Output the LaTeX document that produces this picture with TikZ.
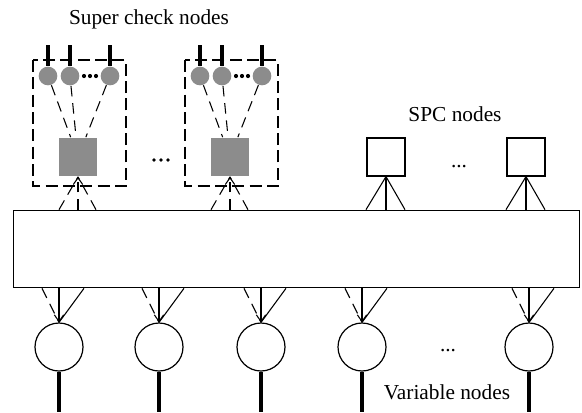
\documentclass[tikz,border=0pt]{standalone}
\usepackage{fontspec}
\setmainfont{Liberation Serif}
\usetikzlibrary{arrows.meta,calc}
\tikzset{
  varnode/.style={draw,circle,line width=0.9pt,minimum size=36pt,inner sep=0pt},
  spcnode/.style={draw,line width=0.9pt,minimum size=28.5pt,inner sep=0pt},
  supnode/.style={fill=black!45,minimum size=29pt,inner sep=0pt},
  subnode/.style={fill=black!45,circle,minimum size=14pt,inner sep=0pt},
  groupbox/.style={draw,line width=1pt,dash pattern=on 9pt off 4pt},
  dashline/.style={line width=0.8pt,dash pattern=on 8pt off 5pt},
  label/.style={font=\fontsize{16}{19}\selectfont},
  arr/.style={-{Straight Barb[length=5pt,width=7pt]}},
}
\begin{document}
\begin{tikzpicture}[x=0.75pt,y=-0.75pt,line width=0.8pt]
\useasboundingbox (0,0) rectangle (582,412);
% edge interleaver
\node[draw,line width=1pt,minimum width=424.5pt,minimum height=58pt,inner sep=0pt] (frame) at (296.75,249) {};

% variable nodes
\foreach \i/\x in {1/59,2/159,3/261,4/362,5/529} {
  \node[varnode] (v\i) at (\x,347) {};
  \coordinate (e\i) at (\x,412);
  \draw[line width=2.6pt] (v\i.south) -- (e\i);
  \draw[arr] (v\i |- frame.south) -- (v\i.north);
  \draw ($(v\i |- frame.south)+(25,0)$) -- (v\i.north);
  \draw[dashline] ($(v\i |- frame.south)+(-17,0)$) -- (v\i.north);
}
\node[label,anchor=base] (vdots) at (448,351) {...};
\node[label] (vlab) at (447,392) {Variable nodes};

% SPC nodes
\foreach \i/\x in {1/386,2/526} {
  \node[spcnode] (s\i) at (\x,157) {};
  \draw (s\i.south) -- (s\i |- frame.north);
  \draw (s\i.south) -- ($(s\i |- frame.north)+(-20,0)$);
  \draw (s\i.south) -- ($(s\i |- frame.north)+(19,0)$);
}
\node[label,anchor=base] (sdots) at (459,167) {...};
\node[label] (slab) at (455,114) {SPC nodes};

% super check nodes
\foreach \g/\x in {1/78,2/230} {
  \node[supnode] (q\g) at (\x,157) {};
  \draw[groupbox] (\x-45,60) rectangle (\x+48,186);
  \foreach \j/\d in {1/-30,2/-8,3/32} {
    \node[subnode] (c\g\j) at (\x+\d,76) {};
    \coordinate (t\g\j) at (\x+\d,45);
    \draw[line width=2.4pt] (t\g\j) -- (c\g\j.north);
    \draw[dashline] (c\g\j) -- (q\g);
  }
  \foreach \k in {6,12,18}
    \fill (\x+\k,76) circle (2.1);
  \draw[dashline,arr] (q\g |- frame.north) -- (q\g.south);
  \draw[dashline] ($(q\g |- frame.north)+(-19,0)$) -- (q\g.south);
  \draw[dashline] ($(q\g |- frame.north)+(18,0)$) -- (q\g.south);
}
\foreach \k in {-7,0,7}
  \fill (161+\k,160) circle (1.8);
\node[label] (qlab) at (149,19) {Super check nodes};
\end{tikzpicture}
\end{document}
